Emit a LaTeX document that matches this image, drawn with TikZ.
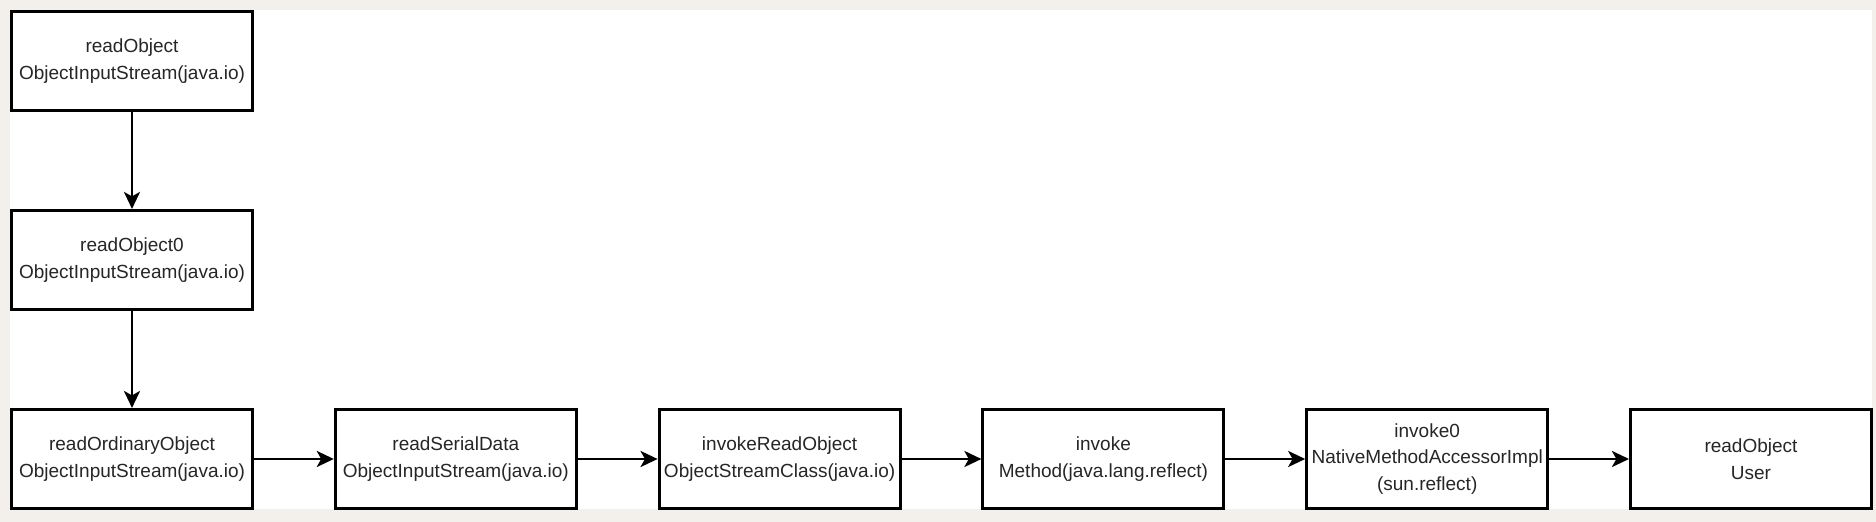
\documentclass[tikz,border=0pt]{standalone}
\usepackage{fontspec}
\setmainfont{Liberation Sans}
\usetikzlibrary{arrows.meta,positioning}
\definecolor{pagebg}{RGB}{243,240,235}

\begin{document}
\begin{tikzpicture}[
    font=\fontsize{9.5}{13.3}\selectfont,
    node distance=48.5pt and 39.9pt,
    call/.style={draw, line width=1.5pt, minimum width=120.5pt, minimum height=49.5pt, align=center, fill=white, inner sep=1pt, text=black!85},
    arrow/.style={-{Stealth[length=8.5pt, width=8pt, inset=2.2pt]}, line width=1.4pt}
  ]
    % page and drawing area
    \fill[pagebg] (-66pt,30.5pt) rectangle (872pt,-230.5pt);
    \fill[white] (-61pt,25.5pt) rectangle (870pt,-224pt);
    \useasboundingbox (-66pt,30.5pt) rectangle (872pt,-230.5pt);

    \node[call] (readobj) at (0,0) {readObject\\ObjectInputStream(java.io)};
    \node[call, below=of readobj] (readobjzero) {readObject0\\ObjectInputStream(java.io)};
    \node[call, below=of readobjzero] (ordinary) {readOrdinaryObject\\ObjectInputStream(java.io)};

    \node[call, right=of ordinary] (serial) {readSerialData\\ObjectInputStream(java.io)};
    \node[call, right=of serial] (invread) {invokeReadObject\\ObjectStreamClass(java.io)};
    \node[call, right=of invread] (invoke) {invoke\\Method(java.lang.reflect)};
    \node[call, right=of invoke] (native) {invoke0\\NativeMethodAccessorImpl\\(sun.reflect)};
    \node[call, right=of native] (user) {readObject\\User};

    \draw[arrow] (readobj) -- (readobjzero);
    \draw[arrow] (readobjzero) -- (ordinary);
    \draw[arrow] (ordinary) -- (serial);
    \draw[arrow] (serial) -- (invread);
    \draw[arrow] (invread) -- (invoke);
    \draw[arrow] (invoke) -- (native);
    \draw[arrow] (native) -- (user);
  \end{tikzpicture}
\end{document}
